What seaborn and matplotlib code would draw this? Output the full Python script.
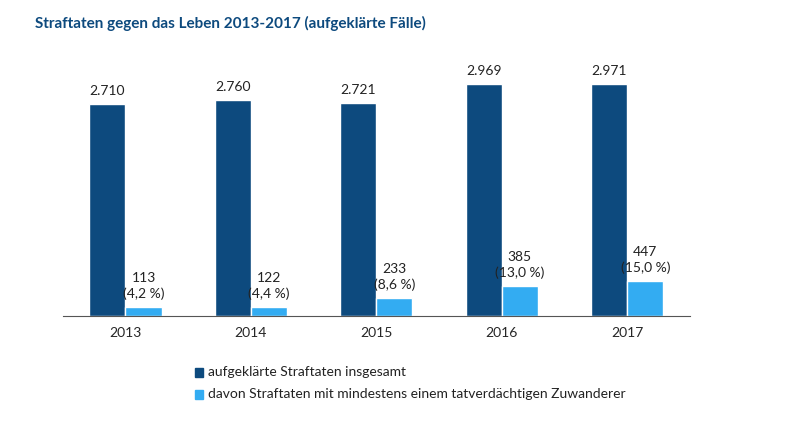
import pandas as pd
import numpy as np
import matplotlib.pyplot as plt
import seaborn as sns

years = ['2013', '2014', '2015', '2016', '2017']
total = [2710, 2760, 2721, 2969, 2971]
migrant = [113, 122, 233, 385, 447]
share = ['4,2', '4,4', '8,6', '13,0', '15,0']
series = ['aufgeklärte Straftaten insgesamt',
          'davon Straftaten mit mindestens einem tatverdächtigen Zuwanderer']

df = pd.DataFrame({
    'Jahr': years * 2,
    'Wert': total + migrant,
    'Serie': [series[0]] * 5 + [series[1]] * 5,
})

sns.set_style('white')
plt.rcParams['font.family'] = ['Lato', 'DejaVu Sans']

dark = '#0d4a7e'
light = '#33acf2'

fig = plt.figure(figsize=(7.94, 4.26), dpi=100, facecolor='white')
ax = fig.add_axes([0.079, 0.258, 0.79, 0.643])

sns.barplot(data=df, x='Jahr', y='Wert', hue='Serie', palette=[dark, light],
            width=0.576, saturation=1, legend=False, ax=ax)

ax.set_ylim(0, 3500)
ax.set_xlim(-0.5, 4.5)
ax.set_yticks([])
ax.set_xlabel('')
ax.set_ylabel('')
for s in ['top', 'right', 'left']:
    ax.spines[s].set_visible(False)
ax.spines['bottom'].set_color('#555555')
ax.set_xticks(np.arange(-0.5, 5, 1), minor=True)
ax.tick_params(axis='x', which='minor', length=5, color='#555555', direction='out')
ax.tick_params(axis='x', which='major', length=0, labelsize=10, pad=8)

off = 0.576 / 4
for i in range(5):
    ax.text(i - off, total[i] + 90, f'{total[i]:,}'.replace(',', '.'),
            ha='center', va='bottom', fontsize=10, color='#222222')
    ax.text(i + off, migrant[i] + 90, f'{migrant[i]}\n({share[i]} %)',
            ha='center', va='bottom', fontsize=10, color='#222222', linespacing=1.3)

fig.text(0.044, 0.945, 'Straftaten gegen das Leben 2013-2017 (aufgeklärte Fälle)',
         fontsize=11, fontweight='bold', color=dark, va='center')

for y, col, lab in [(0.127, dark, series[0]), (0.075, light, series[1])]:
    fig.patches.append(plt.Rectangle((0.245, y - 0.012), 0.011, 0.022,
                                     transform=fig.transFigure, color=col))
    fig.text(0.262, y, lab, fontsize=10, va='center', color='#222222')

plt.savefig('out.png', dpi=100, facecolor='white')
